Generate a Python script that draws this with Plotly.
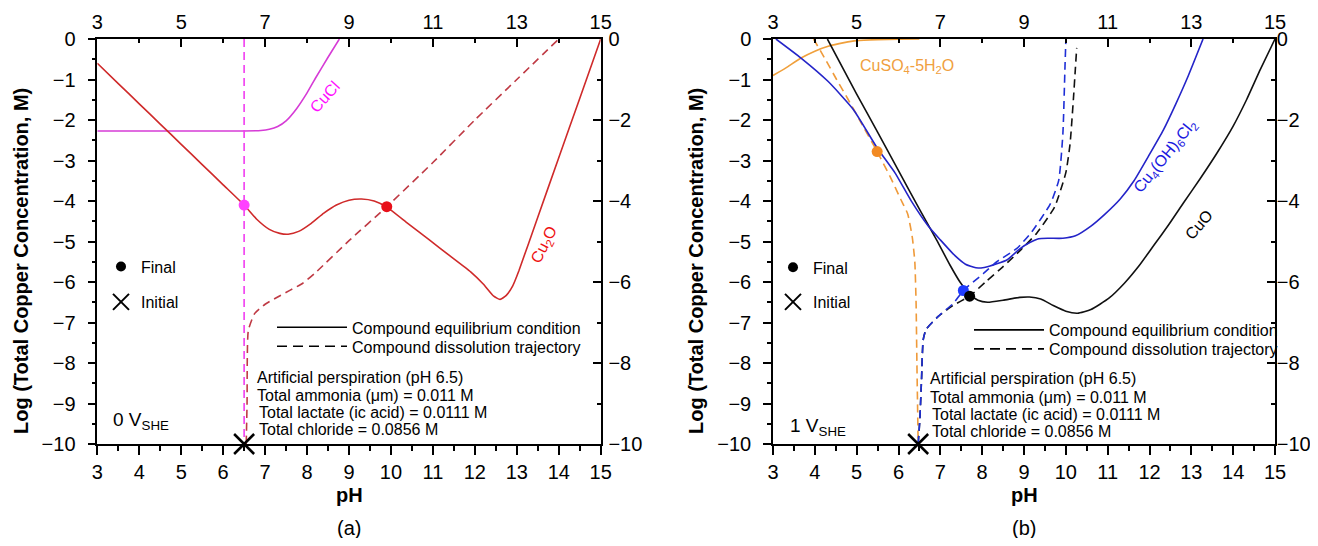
import plotly.graph_objects as go

# ---------------- data: panel (a) 0 V_SHE ----------------
cu2o_ph = [3.0, 3.5, 4.0, 4.5, 5.0, 5.5, 6.0, 6.5, 6.8, 7.1, 7.35, 7.55, 7.8, 8.1, 8.4, 8.7,
           9.0, 9.3, 9.6, 9.9, 10.4, 10.9, 11.4, 11.9, 12.2, 12.45, 12.6, 12.75, 12.9,
           13.05, 13.5, 14.0, 14.5, 15.0]
cu2o_log = [-0.6, -1.1, -1.6, -2.1, -2.6, -3.1, -3.6, -4.1, -4.45, -4.7, -4.8, -4.82, -4.75,
            -4.55, -4.3, -4.1, -3.98, -3.95, -4.0, -4.15, -4.55, -4.95, -5.35, -5.75,
            -6.05, -6.35, -6.43, -6.33, -6.1, -5.72, -4.4, -2.93, -1.47, 0.0]
cucl_ph = [3.0, 6.5, 6.9, 7.1, 7.3, 7.5, 7.75, 8.0, 8.21, 8.5, 8.77]
cucl_log = [-2.27, -2.27, -2.26, -2.23, -2.16, -2.02, -1.72, -1.33, -0.95, -0.45, 0.0]
cucl_traj_ph = [6.5, 6.5]
cucl_traj_log = [0.0, -10.0]
cu2o_traj_ph = [6.55, 6.57, 6.6, 6.75, 7.0, 7.3, 7.6, 7.9, 8.2, 9.0, 9.9, 11.0, 12.0, 13.0, 14.0]
cu2o_traj_log = [-10.0, -9.0, -7.2, -6.78, -6.55, -6.37, -6.2, -6.03, -5.77, -4.98, -4.14,
                 -3.05, -2.0, -1.0, 0.0]
a_final_ph = [6.5, 9.9]
a_final_log = [-4.1, -4.14]
a_initial_ph = [6.5]
a_initial_log = [-10.0]

# ---------------- data: panel (b) 1 V_SHE ----------------
cuso4_ph = [3.0, 3.3, 3.67, 4.0, 4.32, 4.7, 5.0, 5.5, 6.0, 6.5]
cuso4_log = [-0.9, -0.72, -0.47, -0.3, -0.18, -0.09, -0.04, -0.015, -0.005, 0.0]
cuso4_traj_ph = [3.97, 4.25, 4.52, 4.8, 5.07, 5.49, 5.8, 6.05, 6.22, 6.33, 6.39, 6.42, 6.44, 6.47]
cuso4_traj_log = [0.0, -0.5, -1.0, -1.5, -2.0, -2.78, -3.4, -3.95, -4.32, -4.9, -5.5, -6.5, -8.0, -10.0]
atac_ph = [3.07, 3.67, 4.32, 4.92, 5.49, 5.92, 6.3, 6.72, 7.0, 7.35, 7.6, 7.85, 8.05, 8.35, 8.6,
           8.9, 9.15, 9.35, 9.6, 9.93, 10.23, 10.6, 10.93, 11.3, 11.63, 12.0, 12.33, 12.63, 12.93, 13.28]
atac_log = [0.0, -0.47, -1.05, -1.74, -2.69, -3.31, -3.99, -4.63, -4.96, -5.35, -5.56, -5.65,
            -5.64, -5.55, -5.45, -5.18, -5.02, -4.93, -4.92, -4.92, -4.86, -4.62, -4.33, -3.95,
            -3.5, -2.85, -2.25, -1.6, -0.9, 0.0]
atac_traj_ph = [6.47, 6.51, 6.55, 6.59, 6.66, 6.99, 7.31, 7.55, 8.03, 8.35, 8.83, 9.18, 9.63,
                9.83, 9.93, 9.98, 10.0]
atac_traj_log = [-10.0, -9.4, -8.42, -7.43, -7.17, -6.81, -6.53, -6.21, -5.79, -5.5, -5.17,
                 -4.77, -4.07, -3.49, -2.33, -0.68, -0.05]
cuo_ph = [4.3, 5.0, 5.5, 6.0, 6.5, 6.91, 7.23, 7.47, 7.7, 7.9, 8.13, 8.5, 8.9, 9.13, 9.4, 9.7,
          10.0, 10.28, 10.6, 11.03, 11.4, 11.75, 12.1, 12.45, 12.81, 13.21, 13.61, 14.0,
          14.32, 14.65, 15.0]
cuo_log = [0.0, -1.36, -2.3, -3.25, -4.2, -4.96, -5.58, -6.0, -6.3, -6.45, -6.5, -6.45, -6.38,
           -6.37, -6.42, -6.58, -6.72, -6.77, -6.68, -6.4, -6.03, -5.6, -5.1, -4.6, -4.05,
           -3.45, -2.82, -2.15, -1.5, -0.75, 0.0]
cuo_traj_ph = [6.47, 6.51, 6.55, 6.59, 6.66, 6.95, 7.3, 7.7, 8.1, 8.5, 8.93, 9.3, 9.73, 10.0,
               10.1, 10.18, 10.23, 10.26]
cuo_traj_log = [-10.0, -9.4, -8.42, -7.43, -7.17, -6.85, -6.58, -6.35, -5.98, -5.62, -5.2,
                -4.8, -4.15, -3.3, -2.6, -1.5, -0.7, -0.22]
b_final_ph = [5.49, 7.55, 7.7]
b_final_log = [-2.78, -6.21, -6.35]
b_final_colors = ["#f28a22", "#1f3cff", "#000000"]
b_initial_ph = [6.47]
b_initial_log = [-10.0]

ph_range = [3, 15]
log_range = [-10, 0]
ph_ticks = list(range(3, 16))
ph_top_ticks = list(range(3, 16, 2))
log_ticks = list(range(-10, 1))
log_right_ticks = list(range(-10, 1, 2))


def lab(v):
    return ("\u2212" + str(-v)) if v < 0 else str(v)


FONT = "Liberation Sans, Arial, sans-serif"
fig = go.Figure()


def line(xs, ys, color, xa, ya, dash=None, width=1.6, shape="spline"):
    fig.add_trace(go.Scatter(x=xs, y=ys, mode="lines", xaxis=xa, yaxis=ya, showlegend=False,
                             line=dict(color=color, width=width, dash=dash, shape=shape,
                                       smoothing=0.5), hoverinfo="skip"))


DASH = "8px,5px"
# panel (a)
line(cucl_ph, cucl_log, "#d63cd6", "x", "y")
line(cu2o_ph, cu2o_log, "#cf2a2a", "x", "y")
line(cu2o_traj_ph, cu2o_traj_log, "#bf3a44", "x", "y", dash=DASH)
line(cucl_traj_ph, cucl_traj_log, "#f03cf0", "x", "y", dash=DASH, shape="linear")
fig.add_trace(go.Scatter(x=a_final_ph, y=a_final_log, mode="markers", xaxis="x", yaxis="y",
                         showlegend=False, marker=dict(size=11, color=["#ff40ff", "#e8101a"])))
fig.add_trace(go.Scatter(x=a_initial_ph, y=a_initial_log, mode="markers", xaxis="x", yaxis="y",
                         showlegend=False, cliponaxis=False,
                         marker=dict(symbol="x-thin", size=20, line=dict(width=2.5, color="black"))))
# panel (b)
line(cuso4_ph, cuso4_log, "#f0a03c", "x2", "y2")
line(cuso4_traj_ph, cuso4_traj_log, "#ef9a3a", "x2", "y2", dash=DASH)
line(cuo_ph, cuo_log, "#111111", "x2", "y2")
line(cuo_traj_ph, cuo_traj_log, "#111111", "x2", "y2", dash=DASH)
line(atac_ph, atac_log, "#2424c8", "x2", "y2")
line(atac_traj_ph, atac_traj_log, "#1f2fd6", "x2", "y2", dash=DASH)
fig.add_trace(go.Scatter(x=b_final_ph, y=b_final_log, mode="markers", xaxis="x2", yaxis="y2",
                         showlegend=False, marker=dict(size=11, color=b_final_colors)))
fig.add_trace(go.Scatter(x=b_initial_ph, y=b_initial_log, mode="markers", xaxis="x2", yaxis="y2",
                         showlegend=False, cliponaxis=False,
                         marker=dict(symbol="x-thin", size=20, line=dict(width=2.5, color="black"))))

# legend entries: one small legend per entry so each can sit where the reference has it
for xa, ya, base in [("x", "y", 0), ("x2", "y2", 4)]:
    ids = ["legend" if base + k == 0 else "legend%d" % (base + k + 1) for k in range(4)]
    fig.add_trace(go.Scatter(x=[None], y=[None], mode="markers", xaxis=xa, yaxis=ya, name="Final",
                             legend=ids[0], marker=dict(size=10, color="black")))
    fig.add_trace(go.Scatter(x=[None], y=[None], mode="markers", xaxis=xa, yaxis=ya, name="Initial",
                             legend=ids[1],
                             marker=dict(symbol="x-thin", size=16, line=dict(width=2, color="black"))))
    fig.add_trace(go.Scatter(x=[None], y=[None], mode="lines", xaxis=xa, yaxis=ya,
                             name="Compound equilibrium condition", legend=ids[2],
                             line=dict(color="black", width=1.6)))
    fig.add_trace(go.Scatter(x=[None], y=[None], mode="lines", xaxis=xa, yaxis=ya,
                             name="Compound dissolution trajectory", legend=ids[3],
                             line=dict(color="black", width=1.6, dash="10px,6px")))

# page is drawn with an 8px body margin -> figure pixels = reference pixels - 8
# (height kept to 530 so that the page does not scroll)
W, H = 1310, 530
OFF = 8.0


def px(xp):
    return (xp - OFF) / W


def py(yp):
    return 1 - (yp - OFF) / H


doms = {"a": [px(97.3), px(600.7)], "b": [px(773.0), px(1275.0)]}
ydom = [py(444), py(39)]

axis_common = dict(showgrid=False, zeroline=False, showline=True, linecolor="black",
                   linewidth=1.5, tickcolor="black", tickwidth=1.5, automargin=False,
                   tickfont=dict(family=FONT, size=20, color="black"), tickmode="array")


def bottom_x(dom, anchor):
    return dict(axis_common, domain=dom, anchor=anchor, range=ph_range,
                tickvals=ph_ticks, ticktext=[lab(v) for v in ph_ticks],
                ticks="outside", ticklen=9, ticklabelstandoff=0,
                minor=dict(tick0=3, dtick=0.5, ticks="outside", ticklen=5, tickwidth=1.5,
                           tickcolor="black"))


def top_x(dom, anchor, over):
    return dict(axis_common, domain=dom, anchor=anchor, overlaying=over, side="top",
                range=ph_range, tickvals=ph_top_ticks, ticktext=[lab(v) for v in ph_top_ticks],
                ticks="inside", ticklen=8, ticklabelstandoff=0,
                minor=dict(tick0=3, dtick=1, ticks="inside", ticklen=4, tickwidth=1.5,
                           tickcolor="black"))


def left_y(anchor):
    return dict(axis_common, domain=ydom, anchor=anchor, range=log_range,
                tickvals=log_ticks, ticktext=[lab(v) for v in log_ticks],
                ticks="outside", ticklen=8, ticklabelstandoff=8,
                minor=dict(tick0=0, dtick=0.5, ticks="outside", ticklen=4, tickwidth=1.5,
                           tickcolor="black"))


def right_y(anchor, over, standoff):
    return dict(axis_common, domain=ydom, anchor=anchor, overlaying=over, side="right",
                range=log_range, tickvals=log_right_ticks,
                ticktext=[lab(v) for v in log_right_ticks],
                ticks="inside", ticklen=8, ticklabelstandoff=standoff,
                minor=dict(tick0=0, dtick=1, ticks="inside", ticklen=4, tickwidth=1.5,
                           tickcolor="black"))


annos = []


def txt(text, x, y, xref, yref, size=16, color="black", angle=0, xanchor="left",
        yanchor="middle", bold=False):
    if bold:
        text = "<b>" + text + "</b>"
    annos.append(dict(text=text, x=x, y=y, xref=xref, yref=yref, showarrow=False,
                      textangle=angle, xanchor=xanchor, yanchor=yanchor,
                      font=dict(family=FONT, size=size, color=color)))


info = ["Artificial perspiration (pH 6.5)", "Total ammonia (\u03bcm) = 0.011 M",
        "Total lactate (ic acid) = 0.0111 M", "Total chloride = 0.0856 M"]
for xr, yr, x0, ys in [("x", "y", 6.75, [-8.35, -8.8, -9.23, -9.64]),
                       ("x2", "y2", 6.7, [-8.39, -8.84, -9.27, -9.7])]:
    for i, t in enumerate(info):
        txt(t, x0 + (0.06 if i >= 2 else 0), ys[i], xr, yr)

txt("0 V<sub>SHE</sub>", 3.33, -9.42, "x", "y", size=19)
txt("1 V<sub>SHE</sub>", 3.37, -9.58, "x2", "y2", size=19)
txt("CuCl", 8.43, -1.42, "x", "y", size=16, color="#ff10ff", angle=-48, xanchor="center")
txt("Cu<sub>2</sub>O", 13.67, -5.08, "x", "y", size=16, color="#ee1111", angle=-63,
    xanchor="center")
txt("CuSO<sub>4</sub>-5H<sub>2</sub>O", 6.2, -0.68, "x2", "y2", size=16, color="#f0a040",
    xanchor="center")
txt("Cu<sub>4</sub>(OH)<sub>6</sub>Cl<sub>2</sub>", 12.38, -2.9, "x2", "y2", size=16,
    color="#1a1ae0", angle=-51, xanchor="center")
txt("CuO", 13.18, -4.57, "x2", "y2", size=16, angle=-50, xanchor="center")

for cx in [349.0, 1024.0]:
    txt("pH", px(cx), py(495), "paper", "paper", size=20, xanchor="center", bold=True)
for cx, lb in [(349.0, "(a)"), (1024.0, "(b)")]:
    txt(lb, px(cx), py(528), "paper", "paper", size=20, xanchor="center")
for cx in [21.0, 696.0]:
    txt("Log (Total Copper Concentration, M)", px(cx), py(261), "paper", "paper", size=20,
        angle=-90, xanchor="center", bold=True)

leg_common = dict(bgcolor="rgba(0,0,0,0)", borderwidth=0, xanchor="left", yanchor="middle",
                  font=dict(family=FONT, size=16, color="black"))
# (left edge in reference px, item centre in reference px, symbol width)
leg_pos = [(101, 266.6, 30), (101, 302, 30), (272, 327.4, 70), (272, 346.4, 70),
           (773, 267.4, 30), (773, 302, 30), (969, 330, 70), (969, 349, 70)]
legends = {}
for k, (lx, ly, iw) in enumerate(leg_pos):
    key = "legend" if k == 0 else "legend%d" % (k + 1)
    legends[key] = dict(leg_common, x=px(lx), y=py(ly), itemwidth=iw)

fig.update_layout(
    width=W, height=H, margin=dict(l=0, r=0, t=0, b=0, autoexpand=False),
    paper_bgcolor="white", plot_bgcolor="white",
    xaxis=bottom_x(doms["a"], "y"), yaxis=left_y("x"),
    xaxis2=bottom_x(doms["b"], "y2"), yaxis2=left_y("x2"),
    xaxis3=top_x(doms["a"], "y", "x"), yaxis3=right_y("x", "y", 2),
    xaxis4=top_x(doms["b"], "y2", "x2"), yaxis4=right_y("x2", "y2", -4),
    annotations=annos,
    showlegend=True,
    **legends,
)
fig.add_trace(go.Scatter(x=[None], y=[None], xaxis="x3", yaxis="y3", showlegend=False))
fig.add_trace(go.Scatter(x=[None], y=[None], xaxis="x4", yaxis="y4", showlegend=False))

fig.write_html("out.html")
